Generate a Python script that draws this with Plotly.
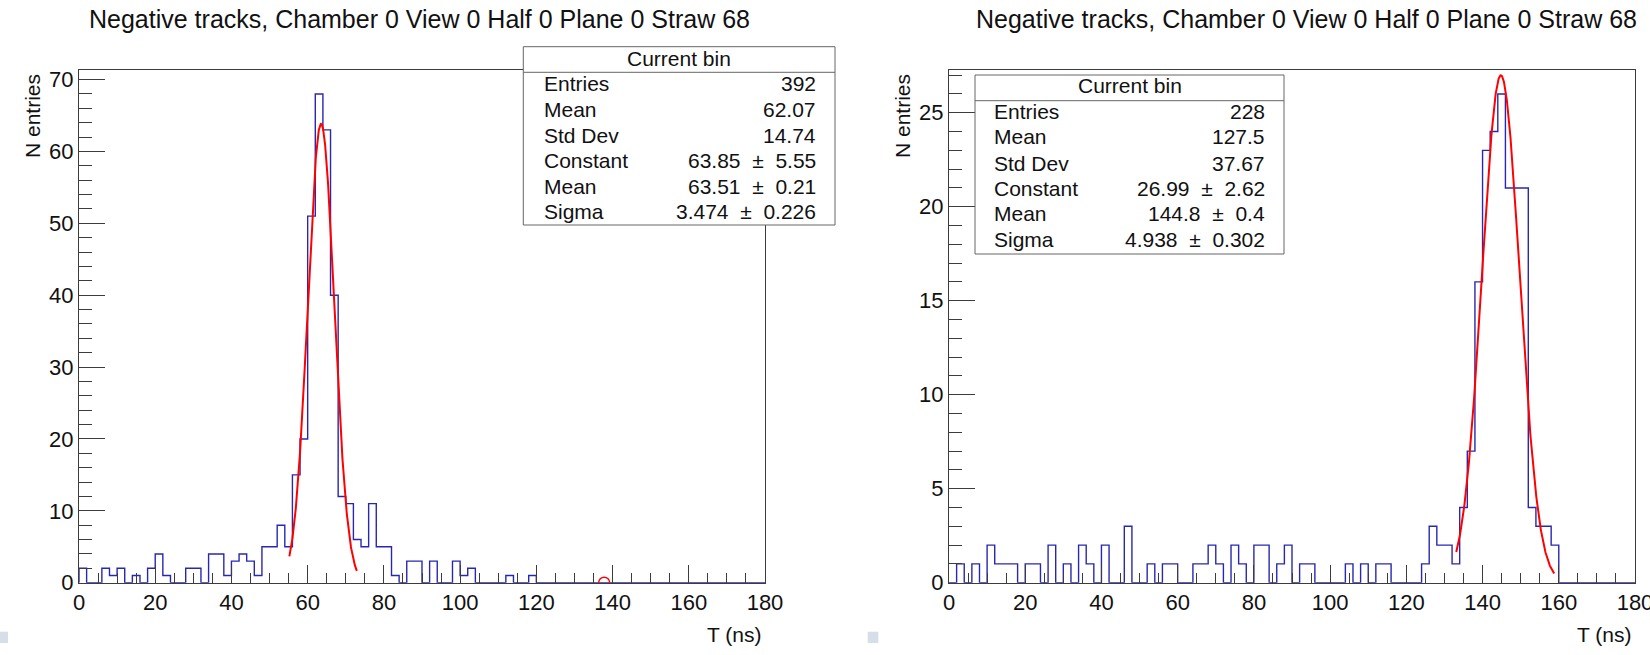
import numpy as np
import plotly.graph_objects as go

W, H = 1650, 655

# Histogram binning: 90 bins of 2 ns from 0 to 180 ns
bin_width = 2.0
n_bins = 90
bin_edges = [i * bin_width for i in range(n_bins + 1)]

# Left pad: drift-time counts per 2 ns bin
left_counts = [
    2, 0, 0, 2, 1, 2, 0, 1, 0, 2,
    4, 1, 0, 0, 2, 2, 0, 4, 4, 1,
    3, 4, 3, 1, 5, 5, 8, 5, 15, 20,
    51, 68, 63, 40, 12, 11, 6, 5, 11, 5,
    5, 1, 0, 3, 3, 0, 3, 0, 0, 3,
    1, 2, 0, 0, 0, 0, 1, 0, 0, 1,
    0, 0, 0, 0, 0, 0, 0, 0, 0, 0,
    0, 0, 0, 0, 0, 0, 0, 0, 0, 0,
    0, 0, 0, 0, 0, 0, 0, 0, 0, 0,
]

# Right pad: drift-time counts per 2 ns bin
right_counts = [
    0, 1, 0, 1, 0, 2, 1, 1, 1, 0,
    1, 1, 0, 2, 0, 1, 0, 2, 1, 0,
    2, 0, 0, 3, 0, 0, 1, 0, 1, 1,
    0, 0, 1, 1, 2, 1, 0, 2, 1, 0,
    2, 2, 0, 1, 2, 0, 1, 1, 0, 0,
    0, 0, 1, 0, 1, 0, 1, 1, 0, 0,
    0, 0, 1, 3, 2, 2, 1, 4, 7, 16,
    23, 24, 26, 21, 21, 21, 4, 3, 3, 2,
    0, 0, 0, 0, 0, 0, 0, 0, 0, 0,
]

# Gaussian fit results (Constant, Mean, Sigma) and fit ranges
left_fit = {"constant": 63.85, "mean": 63.51, "sigma": 3.474}
left_fit_range = [55.2, 72.9]
right_fit = {"constant": 26.99, "mean": 144.8, "sigma": 4.938}
right_fit_range = [133.1, 158.8]

# Stray marker drawn at the baseline of the left pad
left_marker_t = [137.8]
left_marker_n = [0.0]

# Statistics box contents
stat_labels = ["Entries", "Mean", "Std Dev", "Constant", "Mean", "Sigma"]
left_stat_values = ["392", "62.07", "14.74", "63.85 ± 5.55", "63.51 ± 0.21", "3.474 ± 0.226"]
right_stat_values = ["228", "127.5", "37.67", "26.99 ± 2.62", "144.8 ± 0.4", "4.938 ± 0.302"]

title_text = "Negative tracks, Chamber 0 View 0 Half 0 Plane 0 Straw 68"
x_title = "T (ns)"
y_title = "N entries"

x_range = [0, 180]
left_y_range = [0, 71.4]
right_y_range = [0, 27.3]

FONT = "Liberation Sans, Arial, Helvetica, sans-serif"
HIST_COLOR = "rgb(40,40,175)"
FIT_COLOR = "#ff0000"
AXIS_COLOR = "#3c3c3c"
NBSP = "\u00a0"


def px(x):
    return x / W


def py(y):
    return 1 - y / H


def step_xy(counts):
    xs = [bin_edges[0]] + bin_edges[:-1] + [bin_edges[-1]]
    ys = [0] + list(counts) + [counts[-1]]
    return xs, ys


def gauss(t, p):
    return p["constant"] * np.exp(-0.5 * ((t - p["mean"]) / p["sigma"]) ** 2)


def stat_text(s):
    # widen the spacing around the ± sign like the TLatex rendering
    return s.replace(" ± ", NBSP * 2 + "±" + NBSP * 2)


fig = go.Figure()

panels = [
    dict(counts=left_counts, fit=left_fit, frange=left_fit_range, xa="x", ya="y"),
    dict(counts=right_counts, fit=right_fit, frange=right_fit_range, xa="x2", ya="y2"),
]

for p in panels:
    hx, hy = step_xy(p["counts"])
    fig.add_trace(go.Scatter(
        x=hx, y=hy, mode="lines", line=dict(shape="hv", color=HIST_COLOR, width=1.4),
        xaxis=p["xa"], yaxis=p["ya"], hoverinfo="skip",
    ))
    t = np.linspace(p["frange"][0], p["frange"][1], 300)
    fig.add_trace(go.Scatter(
        x=t, y=gauss(t, p["fit"]), mode="lines", line=dict(color=FIT_COLOR, width=2),
        xaxis=p["xa"], yaxis=p["ya"], hoverinfo="skip",
    ))

fig.add_trace(go.Scatter(
    x=left_marker_t, y=left_marker_n, mode="markers",
    marker=dict(symbol="circle-open", size=11, color=FIT_COLOR, line=dict(width=1.5)),
    xaxis="x", yaxis="y", hoverinfo="skip", cliponaxis=True,
))

y_dom = [py(582.7), py(69.5)]
left_dom = [px(79), px(765)]
right_dom = [px(949), px(1635)]

common_x = dict(
    range=x_range, showgrid=False, zeroline=False, showline=True, mirror=True,
    linecolor=AXIS_COLOR, linewidth=1, ticks="inside", ticklen=18, tickwidth=1,
    tickcolor=AXIS_COLOR, dtick=20, tick0=0, automargin=False, ticklabeloverflow="allow",
    minor=dict(ticks="inside", ticklen=10, dtick=5, tickcolor=AXIS_COLOR, tickwidth=1),
    tickfont=dict(family=FONT, size=22, color="#111"), fixedrange=True,
)
common_y = dict(
    showgrid=False, zeroline=False, showline=True, mirror=True, automargin=False,
    linecolor=AXIS_COLOR, linewidth=1, ticks="inside", ticklen=26, tickwidth=1,
    tickcolor=AXIS_COLOR, tickfont=dict(family=FONT, size=22, color="#111"), fixedrange=True,
)

fig.update_layout(
    width=W, height=H, margin=dict(l=0, r=0, t=0, b=0, pad=0, autoexpand=False),
    paper_bgcolor="white", plot_bgcolor="white", showlegend=False,
    xaxis=dict(domain=left_dom, anchor="y", **common_x),
    yaxis=dict(domain=y_dom, anchor="x", range=left_y_range, dtick=10, tick0=0,
               minor=dict(ticks="inside", ticklen=13, dtick=2, tickcolor=AXIS_COLOR, tickwidth=1),
               **common_y),
    xaxis2=dict(domain=right_dom, anchor="y2", **common_x),
    yaxis2=dict(domain=y_dom, anchor="x2", range=right_y_range, dtick=5, tick0=0,
                minor=dict(ticks="inside", ticklen=13, dtick=1, tickcolor=AXIS_COLOR, tickwidth=1),
                **common_y),
)

shapes = []
annotations = []


def text(x, y, s, size, xanchor="center", angle=0):
    annotations.append(dict(
        x=px(x), y=py(y), xref="paper", yref="paper", text=s, showarrow=False,
        xanchor=xanchor, yanchor="middle", textangle=angle,
        font=dict(family=FONT, size=size, color="#111"),
    ))


# Titles and axis labels
for cx in (420, 1306):
    text(cx, 19, title_text, 25)
text(763, 634.5, x_title, 21, xanchor="right")
text(1633, 634.5, x_title, 21, xanchor="right")
text(32, 116, y_title, 21, angle=-90)
text(902, 116, y_title, 21, angle=-90)

# Statistics boxes
boxes = [
    dict(x0=523.3, x1=835, y0=46.7, y1=225, yh=72.3, lx=541.7, rx=817.7,
         hy=58.3, rows=[83.3, 109.3, 135, 160.7, 186.7, 211.7], vals=left_stat_values),
    dict(x0=975, x1=1284, y0=75, y1=254, yh=100.7, lx=991.7, rx=1267.3,
         hy=86, rows=[111.7, 136.7, 163.3, 188.3, 214, 240], vals=right_stat_values),
]
for b in boxes:
    shapes.append(dict(type="rect", xref="paper", yref="paper", layer="above",
                       x0=px(b["x0"]), x1=px(b["x1"]), y0=py(b["y1"]), y1=py(b["y0"]),
                       fillcolor="white", line=dict(color="#666", width=1)))
    shapes.append(dict(type="line", xref="paper", yref="paper", layer="above",
                       x0=px(b["x0"]), x1=px(b["x1"]), y0=py(b["yh"]), y1=py(b["yh"]),
                       line=dict(color="#666", width=1)))
    text((b["x0"] + b["x1"]) / 2, b["hy"], "Current bin", 21)
    for ry, lab, val in zip(b["rows"], stat_labels, b["vals"]):
        text(b["lx"], ry, lab, 21, xanchor="left")
        text(b["rx"], ry, stat_text(val), 21, xanchor="right")

# Small page markers at the lower edge
for x0, x1 in ((0, 8), (867.7, 878.3)):
    shapes.append(dict(type="rect", xref="paper", yref="paper", layer="above",
                       x0=px(x0), x1=px(x1), y0=py(643), y1=py(631.7),
                       fillcolor="#d6dee9", line=dict(width=0)))

fig.update_layout(shapes=shapes, annotations=annotations)
fig.write_html(
    "out.html",
    config={"responsive": False, "displayModeBar": False},
    post_script="document.body.style.margin='0';document.body.style.overflow='hidden';",
)
